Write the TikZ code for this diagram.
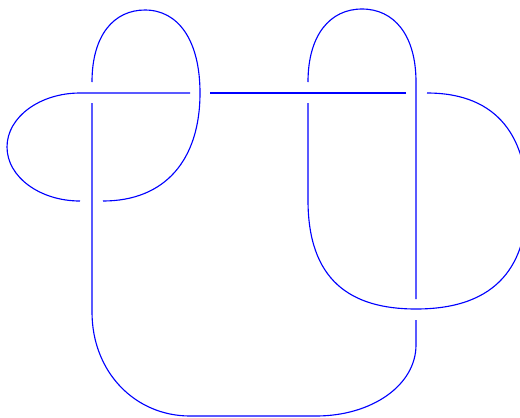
\documentclass[tikz,border=0pt]{standalone}
\usepackage{xcolor}
\usepackage{tikz}
\usetikzlibrary{calc}

\begin{document}
\begin{tikzpicture}[
    x=0.025cm,y=-0.025cm,
    strand/.style={blue,line width=0.8pt,line cap=butt}
  ]
    \useasboundingbox (0,0) rectangle (520,417);
    % each under-strand stops short of its crossing
    \draw[strand] (92,103) -- (92,312)
      .. controls (92,372) and (135,416) .. (190,416) -- (316,416)
      .. controls (372,416) and (416,385) .. (416,345) -- (416,320);
    \draw[strand] (416,299) -- (416,82)
      .. controls (416,35) and (394,9) .. (362,9)
      .. controls (330,9) and (308,35) .. (308,82);
    \draw[strand] (308,103) -- (308,200)
      .. controls (308,280) and (350,309) .. (416,309)
      .. controls (500,309) and (527,262) .. (527,201)
      .. controls (527,140) and (500,93) .. (427,93);
    \draw[strand] (406,93) -- (210,93);
    \draw[strand] (190,93) -- (80,93)
      .. controls (40,93) and (7,117) .. (7,147)
      .. controls (7,177) and (40,201) .. (80,201);
    \draw[strand] (103,201) .. controls (165,201) and (200,160) .. (200,93)
      .. controls (200,40) and (178,10) .. (145,10)
      .. controls (114,10) and (92,35) .. (92,82);
  \end{tikzpicture}
\end{document}
